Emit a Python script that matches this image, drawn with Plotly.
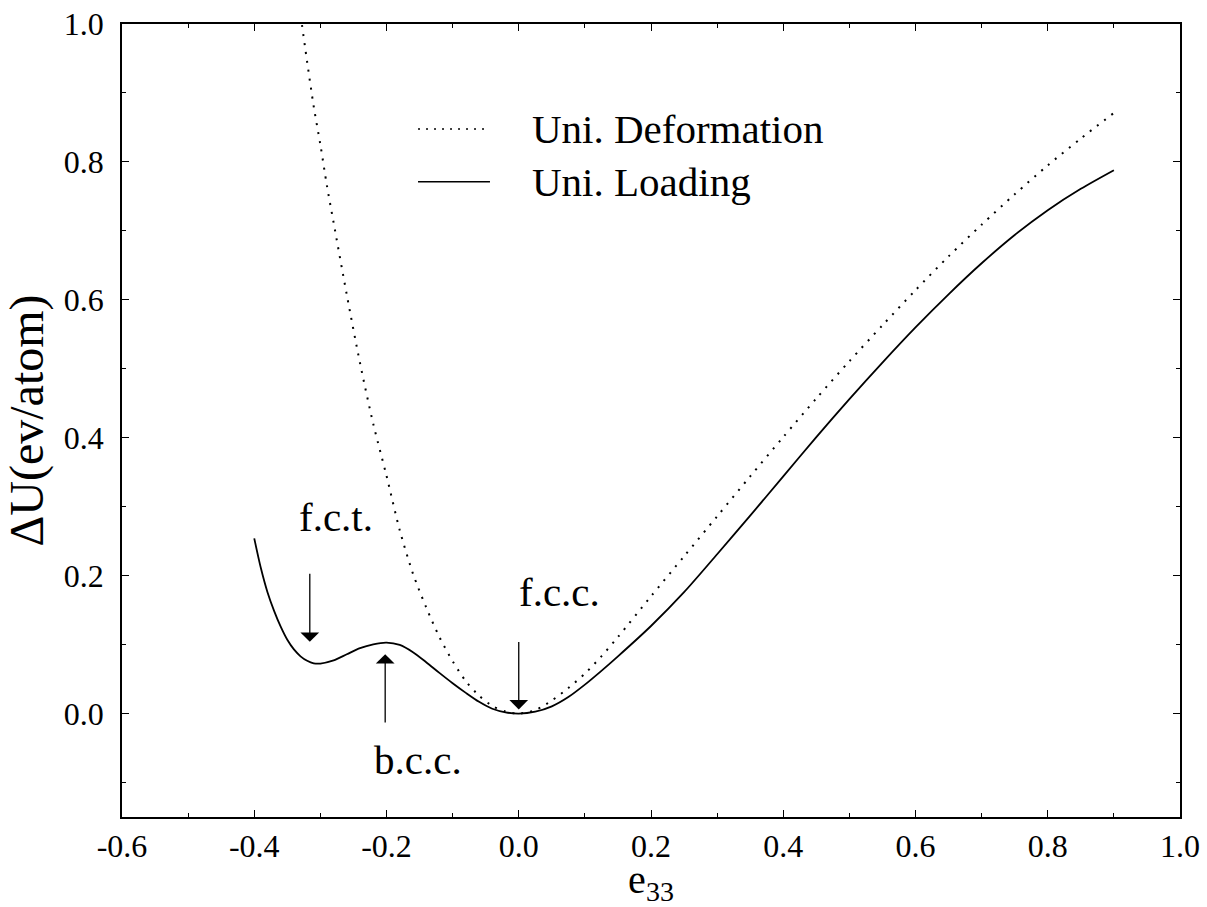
import plotly.graph_objects as go

# Uni. Loading (solid)
load_x = [-0.40, -0.39, -0.38, -0.37, -0.36, -0.35, -0.34, -0.33, -0.32, -0.31,
          -0.30, -0.28, -0.26, -0.24, -0.22, -0.20, -0.18, -0.16, -0.14, -0.12,
          -0.10, -0.08, -0.06, -0.04, -0.02, 0.0,
          0.025, 0.05, 0.075, 0.10, 0.125, 0.15, 0.20, 0.25, 0.30, 0.35, 0.40, 0.45, 0.50,
          0.55, 0.60, 0.65, 0.70, 0.75, 0.80, 0.85, 0.90]
load_y = [0.254, 0.211, 0.176, 0.149, 0.126, 0.107, 0.093, 0.083, 0.0765, 0.0728,
          0.0725, 0.077, 0.086, 0.095, 0.1005, 0.103, 0.0995, 0.089, 0.0745, 0.059,
          0.044, 0.030, 0.017, 0.007, 0.0018, 0.0,
          0.0027, 0.0105, 0.024, 0.042, 0.062, 0.083, 0.127, 0.176, 0.231, 0.287, 0.344, 0.401, 0.456,
          0.509, 0.560, 0.608, 0.653, 0.694, 0.730, 0.761, 0.788]

# Uni. Deformation (dotted)
def_x = [-0.335, -0.328, -0.32, -0.31, -0.30, -0.29, -0.28, -0.26, -0.24, -0.22,
         -0.20, -0.18, -0.16, -0.14, -0.12, -0.10, -0.08, -0.06, -0.04, -0.02, 0.0,
         0.025, 0.05, 0.075, 0.10, 0.125, 0.15, 0.20, 0.25, 0.30, 0.35, 0.40, 0.45, 0.50,
         0.55, 0.60, 0.65, 0.70, 0.75, 0.80, 0.85, 0.90]
def_y = [1.05, 1.0, 0.945, 0.88, 0.825, 0.765, 0.712, 0.607, 0.508, 0.42,
         0.345, 0.266, 0.203, 0.154, 0.111, 0.076, 0.047, 0.026, 0.011, 0.003, 0.0,
         0.005, 0.019, 0.037, 0.058, 0.083, 0.111, 0.170, 0.228, 0.286, 0.344, 0.401, 0.457, 0.511,
         0.563, 0.614, 0.663, 0.709, 0.753, 0.795, 0.834, 0.871]

series_names = ["Uni. Deformation", "Uni. Loading"]

x_tick_vals = [-0.6, -0.4, -0.2, 0.0, 0.2, 0.4, 0.6, 0.8, 1.0]
x_tick_text = ["-0.6", "-0.4", "-0.2", "0.0", "0.2", "0.4", "0.6", "0.8", "1.0"]
y_tick_vals = [0.0, 0.2, 0.4, 0.6, 0.8, 1.0]
y_tick_text = ["0.0", "0.2", "0.4", "0.6", "0.8", "1.0"]

# Labels and arrows
labels = ["f.c.t.", "b.c.c.", "f.c.c."]
label_x = [-0.276, -0.152, 0.062]
label_y = [0.285, -0.068, 0.176]
arrow_tail_x = [-0.316, -0.202, 0.0]
arrow_tail_y = [0.205, -0.015, 0.106]
arrow_head_x = [-0.316, -0.202, 0.0]
arrow_head_y = [0.104, 0.086, 0.006]

FONT = "Liberation Serif"

fig = go.Figure()
fig.add_trace(go.Scatter(x=def_x, y=def_y, mode="lines", name=series_names[0],
                         line=dict(color="black", width=2, dash="2px,7px", shape="spline", smoothing=0.8),
                         showlegend=False))
fig.add_trace(go.Scatter(x=load_x, y=load_y, mode="lines", name=series_names[1],
                         line=dict(color="black", width=1.8, shape="spline", smoothing=0.8),
                         showlegend=False))

# legend drawn manually (samples + text)
fig.add_shape(type="line", xref="paper", yref="paper", x0=0.2798, x1=0.3478, y0=0.8676, y1=0.8676,
              line=dict(color="black", width=1.6, dash="2px,6px"))
fig.add_shape(type="line", xref="paper", yref="paper", x0=0.2798, x1=0.3478, y0=0.8011, y1=0.8011,
              line=dict(color="black", width=1.6))
fig.add_annotation(xref="paper", yref="paper", x=0.3856, y=0.8676, text=series_names[0],
                   showarrow=False, xanchor="left", yanchor="middle", font=dict(family=FONT, size=41, color="black"))
fig.add_annotation(xref="paper", yref="paper", x=0.3856, y=0.8011, text=series_names[1],
                   showarrow=False, xanchor="left", yanchor="middle", font=dict(family=FONT, size=41, color="black"))

for t, tx, ty, ax_, ay_, hx, hy in zip(labels, label_x, label_y, arrow_tail_x, arrow_tail_y, arrow_head_x, arrow_head_y):
    fig.add_annotation(x=tx, y=ty, text=t, showarrow=False, font=dict(family=FONT, size=41, color="black"))
    fig.add_annotation(x=hx, y=hy, ax=ax_, ay=ay_, axref="x", ayref="y", text="", showarrow=True,
                       arrowhead=1, arrowsize=2.4, arrowwidth=1.3, arrowcolor="black")

fig.update_xaxes(range=[-0.6, 1.0], tickvals=x_tick_vals, ticktext=x_tick_text,
                 ticks="inside", ticklen=7, tickwidth=1.3, tickcolor="black",
                 showline=True, linecolor="black", linewidth=1.5, mirror="ticks",
                 showgrid=False, zeroline=False, automargin=False,
                 minor=dict(dtick=0.1, tick0=0.0, ticks="inside", ticklen=4, tickcolor="black", tickwidth=1, showgrid=False),
                 tickfont=dict(family=FONT, size=32, color="black"),
                 title=dict(text="e<sub>33</sub>", font=dict(family=FONT, size=40, color="black"), standoff=7))
fig.update_yaxes(range=[-0.15, 1.0], tickvals=y_tick_vals, ticktext=y_tick_text,
                 ticks="inside", ticklen=7, tickwidth=1.3, tickcolor="black",
                 showline=True, linecolor="black", linewidth=1.5, mirror="ticks",
                 showgrid=False, zeroline=False, automargin=False,
                 minor=dict(dtick=0.1, tick0=0.0, ticks="inside", ticklen=4, tickcolor="black", tickwidth=1, showgrid=False),
                 tickfont=dict(family=FONT, size=32, color="black"), ticklabelstandoff=10,
                 title=dict(text="ΔU(ev/atom)", font=dict(family=FONT, size=48, color="black"), standoff=22))

fig.update_layout(width=1207, height=907, margin=dict(l=122, r=27, t=24, b=90),
                  paper_bgcolor="white", plot_bgcolor="white", showlegend=False,
                  font=dict(family=FONT, color="black"))

fig.write_html("out.html", config={"displayModeBar": False},
               post_script="document.body.style.margin='0';document.body.style.padding='0';")
